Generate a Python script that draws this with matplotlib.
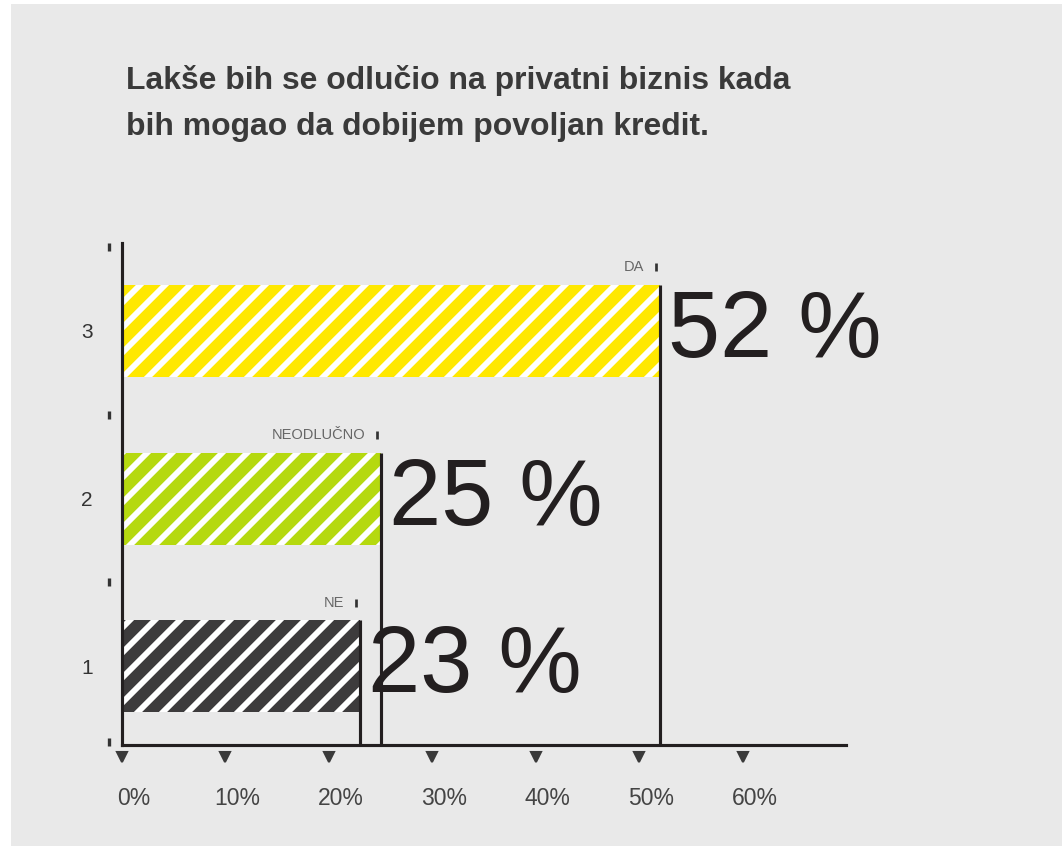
import matplotlib.pyplot as plt
import matplotlib.patches as mpatches
from matplotlib.transforms import ScaledTranslation

# data
categories = [1, 2, 3]
values = [23, 25, 52]
bar_colors = ['#3d3b3c', '#b5d90f', '#ffe800']
small_labels = ['NE', 'NEODLUČNO', 'DA']
x_ticks = [0, 10, 20, 30, 40, 50, 60]
x_tick_labels = ['0%', '10%', '20%', '30%', '40%', '50%', '60%']
title_lines = ['Lakše bih se odlučio na privatni biznis kada',
               'bih mogao da dobijem povoljan kredit.']

W, H, DPI = 1062, 846, 150
plt.rcParams['font.family'] = ['Liberation Sans', 'DejaVu Sans']
plt.rcParams['hatch.linewidth'] = 2.8

fig = plt.figure(figsize=(W / DPI, H / DPI), dpi=DPI, facecolor='white')
# gray page with thin white strip top/left
fig.patches.append(mpatches.Rectangle((11 / W, 0), 1, 1 - 4 / H, transform=fig.transFigure,
                                      facecolor='#e9e9e9', edgecolor='none', zorder=-10))

ax = fig.add_axes([122 / W, 1 - 745 / H, (846 - 122) / W, (745 - 243) / H])
ax.set_facecolor('none')
ax.set_xlim(0, 70)
ax.set_ylim(0.53, 3.525)

ax.barh(categories, values, height=0.55, color=bar_colors, edgecolor='white',
        linewidth=0, hatch='//', zorder=2)

# vertical lines from bar end down to axis
for c, v in zip(categories, values):
    ax.plot([v, v], [ax.get_ylim()[0], c + 0.275], color='#231f20', lw=1.5,
            solid_capstyle='butt', zorder=3, clip_on=False)

# big percentage labels
for c, v in zip(categories, values):
    ax.text(v + 0.8, c - 0.01, f'{v} %', fontsize=45, color='#231f20',
            va='center', ha='left', zorder=4)

# small labels above bar ends
for c, v, lab in zip(categories, values, small_labels):
    ax.text(v - 1.5, c + 0.38, lab, fontsize=7, color='#666666', ha='right',
            va='center')
    ax.plot([v - 0.35], [c + 0.38], marker='|', ms=3.5, mew=1.3, color='#333333')

for s in ['top', 'right']:
    ax.spines[s].set_visible(False)
for s in ['left', 'bottom']:
    ax.spines[s].set_linewidth(1.5)
    ax.spines[s].set_color('#231f20')

# y ticks
ax.set_yticks(categories)
ax.set_yticklabels([str(c) for c in categories], fontsize=10, color='#333333')
ax.tick_params(axis='y', length=0, pad=14)
yb = ax.get_yaxis_transform()
for yy in [0.55, 1.5, 2.5, 3.5]:
    ax.plot([-0.018], [yy], marker='|', ms=4, mew=1.6, color='#333333',
            transform=yb, clip_on=False)

# x ticks
ax.set_xticks(x_ticks)
ax.set_xticklabels(x_tick_labels, fontsize=11, color='#444444')
ax.tick_params(axis='x', length=0, pad=20)
shift = ScaledTranslation(12 / DPI, 0, fig.dpi_scale_trans)
for lab in ax.get_xticklabels():
    lab.set_transform(lab.get_transform() + shift)
xb = ax.get_xaxis_transform()
for xx in x_ticks:
    ax.plot([xx], [-0.024], marker='v', ms=4.5, color='#3a3a3a',
            transform=xb, clip_on=False)

# title
for i, line in enumerate(title_lines):
    fig.text(126 / W, 1 - (80 + 47 * i) / H, line, fontsize=15.3, fontweight='bold',
             color='#3a3a3a', ha='left', va='center')

fig.savefig('out.png', dpi=DPI, facecolor=fig.get_facecolor())
